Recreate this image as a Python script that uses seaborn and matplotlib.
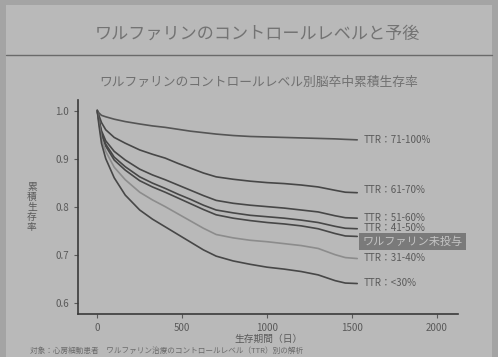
import numpy as np
import pandas as pd
import matplotlib
matplotlib.use("Agg")
import matplotlib.pyplot as plt
import seaborn as sns

days = [0, 10, 25, 50, 100, 165, 250, 325, 400, 475, 550, 625, 700, 800, 900, 1000,
        1100, 1200, 1300, 1400, 1460, 1530]

series_names = ["TTR：71-100%", "TTR：61-70%", "TTR：51-60%", "TTR：41-50%",
                "ワルファリン未投与", "TTR：31-40%", "TTR：<30%"]
ttr_71_100 = [1.0, 0.995, 0.990, 0.987, 0.982, 0.977, 0.972, 0.968, 0.965, 0.961, 0.957, 0.954,
              0.951, 0.948, 0.946, 0.945, 0.944, 0.943, 0.942, 0.941, 0.940, 0.939]
ttr_61_70 = [1.0, 0.990, 0.975, 0.960, 0.944, 0.932, 0.918, 0.909, 0.901, 0.890, 0.880, 0.870,
             0.862, 0.857, 0.853, 0.850, 0.848, 0.845, 0.841, 0.834, 0.830, 0.829]
ttr_51_60 = [1.0, 0.982, 0.958, 0.937, 0.915, 0.897, 0.878, 0.866, 0.856, 0.845, 0.834, 0.823,
             0.813, 0.807, 0.803, 0.800, 0.797, 0.793, 0.789, 0.781, 0.777, 0.776]
ttr_41_50 = [1.0, 0.980, 0.953, 0.930, 0.903, 0.883, 0.862, 0.849, 0.838, 0.826, 0.815, 0.803,
             0.793, 0.787, 0.782, 0.779, 0.776, 0.772, 0.767, 0.759, 0.755, 0.754]
no_warfarin = [1.0, 0.979, 0.950, 0.926, 0.897, 0.876, 0.854, 0.841, 0.830, 0.818, 0.806, 0.794,
               0.783, 0.776, 0.771, 0.767, 0.764, 0.760, 0.754, 0.744, 0.739, 0.738]
ttr_31_40 = [1.0, 0.975, 0.942, 0.915, 0.882, 0.856, 0.830, 0.814, 0.800, 0.785, 0.770, 0.755,
             0.742, 0.735, 0.730, 0.727, 0.723, 0.719, 0.713, 0.700, 0.694, 0.692]
ttr_lt30 = [1.0, 0.970, 0.932, 0.900, 0.860, 0.824, 0.793, 0.774, 0.758, 0.742, 0.726, 0.710,
            0.697, 0.687, 0.680, 0.674, 0.670, 0.665, 0.658, 0.646, 0.641, 0.640]
label_y = [0.939, 0.835, 0.777, 0.756, 0.727, 0.693, 0.641]

xticks = [0, 500, 1000, 1500, 2000]
yticks = [0.6, 0.7, 0.8, 0.9, 1.0]

all_vals = [ttr_71_100, ttr_61_70, ttr_51_60, ttr_41_50, no_warfarin, ttr_31_40, ttr_lt30]
rows = []
for name, vals in zip(series_names, all_vals):
    for d, v in zip(days, vals):
        rows.append({"day": d, "surv": v, "group": name})
df = pd.DataFrame(rows)

sns.set_style("ticks")
plt.rcParams['font.family'] = ['Noto Sans CJK JP', 'DejaVu Sans']

bg = "#b9b9b9"
fig = plt.figure(figsize=(4.98, 3.57), dpi=100, facecolor="#a4a4a4")
# slide area
fig.patches.append(plt.Rectangle((0.012, 0.0), 0.976, 0.985, transform=fig.transFigure,
                                 facecolor=bg, edgecolor="none", zorder=-5))
fig.add_artist(plt.Line2D([0.012, 0.988], [0.845, 0.845], color="#6a6a6a", lw=1.0))
fig.text(0.517, 0.905, "ワルファリンのコントロールレベルと予後", ha="center", va="center",
         fontsize=12.3, color="#737373")
fig.text(0.52, 0.768, "ワルファリンのコントロールレベル別脳卒中累積生存率", ha="center", va="center",
         fontsize=9.2, color="#707070")

ax = fig.add_axes([0.157, 0.121, 0.763, 0.599])
ax.set_zorder(5)
ax.set_facecolor("none")
palette = {n: "#474747" for n in series_names}
palette["TTR：31-40%"] = "#8c8c8c"
palette["TTR：71-100%"] = "#555555"
sns.lineplot(data=df, x="day", y="surv", hue="group", palette=palette, legend=False,
             linewidth=1.2, ax=ax)

ax.set_xlim(-112, 2124)
ax.set_ylim(0.577, 1.022)
ax.set_xticks(xticks)
ax.set_yticks(yticks)
ax.set_yticklabels([f"{t:.1f}" for t in yticks])
ax.tick_params(labelsize=7, colors="#5a5a5a", length=3, width=0.8)
for s in ["top", "right"]:
    ax.spines[s].set_visible(False)
for s in ["left", "bottom"]:
    ax.spines[s].set_color("#3a3a3a")
    ax.spines[s].set_linewidth(1.2)
ax.set_xlabel("生存期間（日）", fontsize=7, color="#5a5a5a", labelpad=1)
ax.set_ylabel("")
fig.text(0.064, 0.42, "\n".join("累積生存率"), ha="center", va="center",
         fontsize=7, color="#5a5a5a", linespacing=1.0)

for name, ly in zip(series_names, label_y):
    if name == "ワルファリン未投与":
        ax.text(1560, ly, name, fontsize=8, color="#c4c4c4", va="center", ha="left",
                bbox=dict(boxstyle="square,pad=0.3", facecolor="#7a7a7a", edgecolor="none"))
    else:
        ax.text(1570, ly, name, fontsize=7, color="#5a5a5a", va="center", ha="left")

fig.text(0.06, 0.018, "対象：心房細動患者　ワルファリン治療のコントロールレベル（TTR）別の解析",
         fontsize=5.5, color="#6a6a6a", ha="left", va="center")

fig.savefig("out.png", dpi=100, facecolor=fig.get_facecolor())
